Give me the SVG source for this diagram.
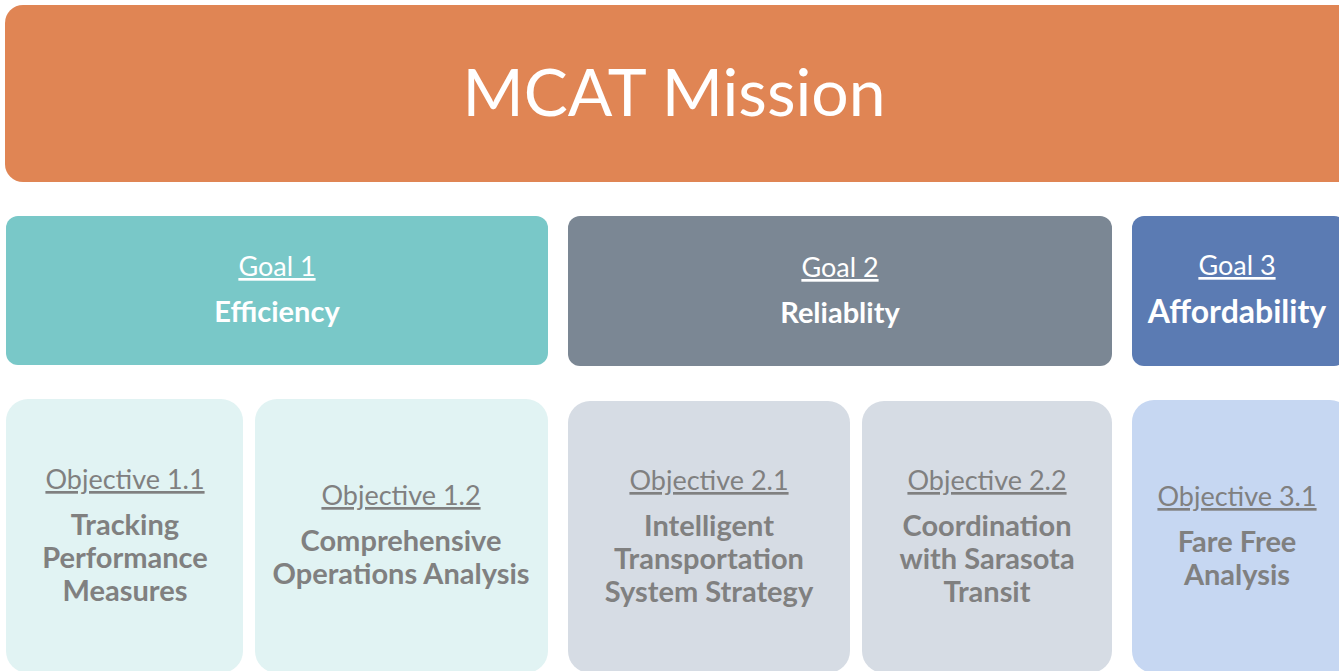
<svg xmlns="http://www.w3.org/2000/svg" width="1339" height="671" viewBox="0 0 1339 671">
<style>
text{font-family:Lato,"Open Sans","Liberation Sans",sans-serif;text-anchor:middle}
.mission{fill:#fff;font-size:66px;font-weight:400}
.glab{fill:#fff;font-size:27px;text-decoration:underline}
.gname{fill:#fff;font-size:29px;font-weight:700}
.olab{fill:#808080;font-size:27px;text-decoration:underline}
.oname{fill:#808080;font-size:29px;font-weight:700}
</style>
<rect width="1339" height="671" fill="#fff"/>
<g id="mission"><rect x="5" y="5" width="1352" height="177" rx="18" fill="#E08554"/><text class="mission" x="674" y="116">MCAT Mission</text></g>
<g id="goal1"><rect x="6" y="216" width="542" height="149" rx="12" fill="#79C8C8"/><text class="glab" x="277" y="276">Goal 1</text><text class="gname" x="277" y="322">Efficiency</text></g>
<g id="goal2"><rect x="568" y="216" width="544" height="150" rx="12" fill="#7B8794"/><text class="glab" x="840" y="277">Goal 2</text><text class="gname" x="840" y="323">Reliablity</text></g>
<g id="goal3"><rect x="1132" y="216" width="214" height="150" rx="12" fill="#5B7BB3"/><text class="glab" x="1237" y="275">Goal 3</text><text class="gname" x="1237" y="323" style="font-size:32px">Affordability</text></g>
<g id="obj11"><rect x="6" y="399" width="237" height="274" rx="22" fill="#E1F3F3"/><text class="olab" x="125" y="489">Objective 1.1</text><text class="oname" x="125" y="535">Tracking</text><text class="oname" x="125" y="568">Performance</text><text class="oname" x="125" y="601">Measures</text></g>
<g id="obj12"><rect x="255" y="399" width="293" height="274" rx="22" fill="#E1F3F3"/><text class="olab" x="401" y="505">Objective 1.2</text><text class="oname" x="401" y="551">Comprehensive</text><text class="oname" x="401" y="584">Operations Analysis</text></g>
<g id="obj21"><rect x="568" y="401" width="282" height="272" rx="22" fill="#D6DCE4"/><text class="olab" x="709" y="490">Objective 2.1</text><text class="oname" x="709" y="536">Intelligent</text><text class="oname" x="709" y="569">Transportation</text><text class="oname" x="709" y="602">System Strategy</text></g>
<g id="obj22"><rect x="862" y="401" width="250" height="272" rx="22" fill="#D6DCE4"/><text class="olab" x="987" y="490">Objective 2.2</text><text class="oname" x="987" y="536">Coordination</text><text class="oname" x="987" y="569">with Sarasota</text><text class="oname" x="987" y="602">Transit</text></g>
<g id="obj31"><rect x="1132" y="400" width="220" height="273" rx="22" fill="#C6D7F2"/><text class="olab" x="1237" y="506">Objective 3.1</text><text class="oname" x="1237" y="552">Fare Free</text><text class="oname" x="1237" y="585">Analysis</text></g>
<g id="connectors"/>
</svg>
